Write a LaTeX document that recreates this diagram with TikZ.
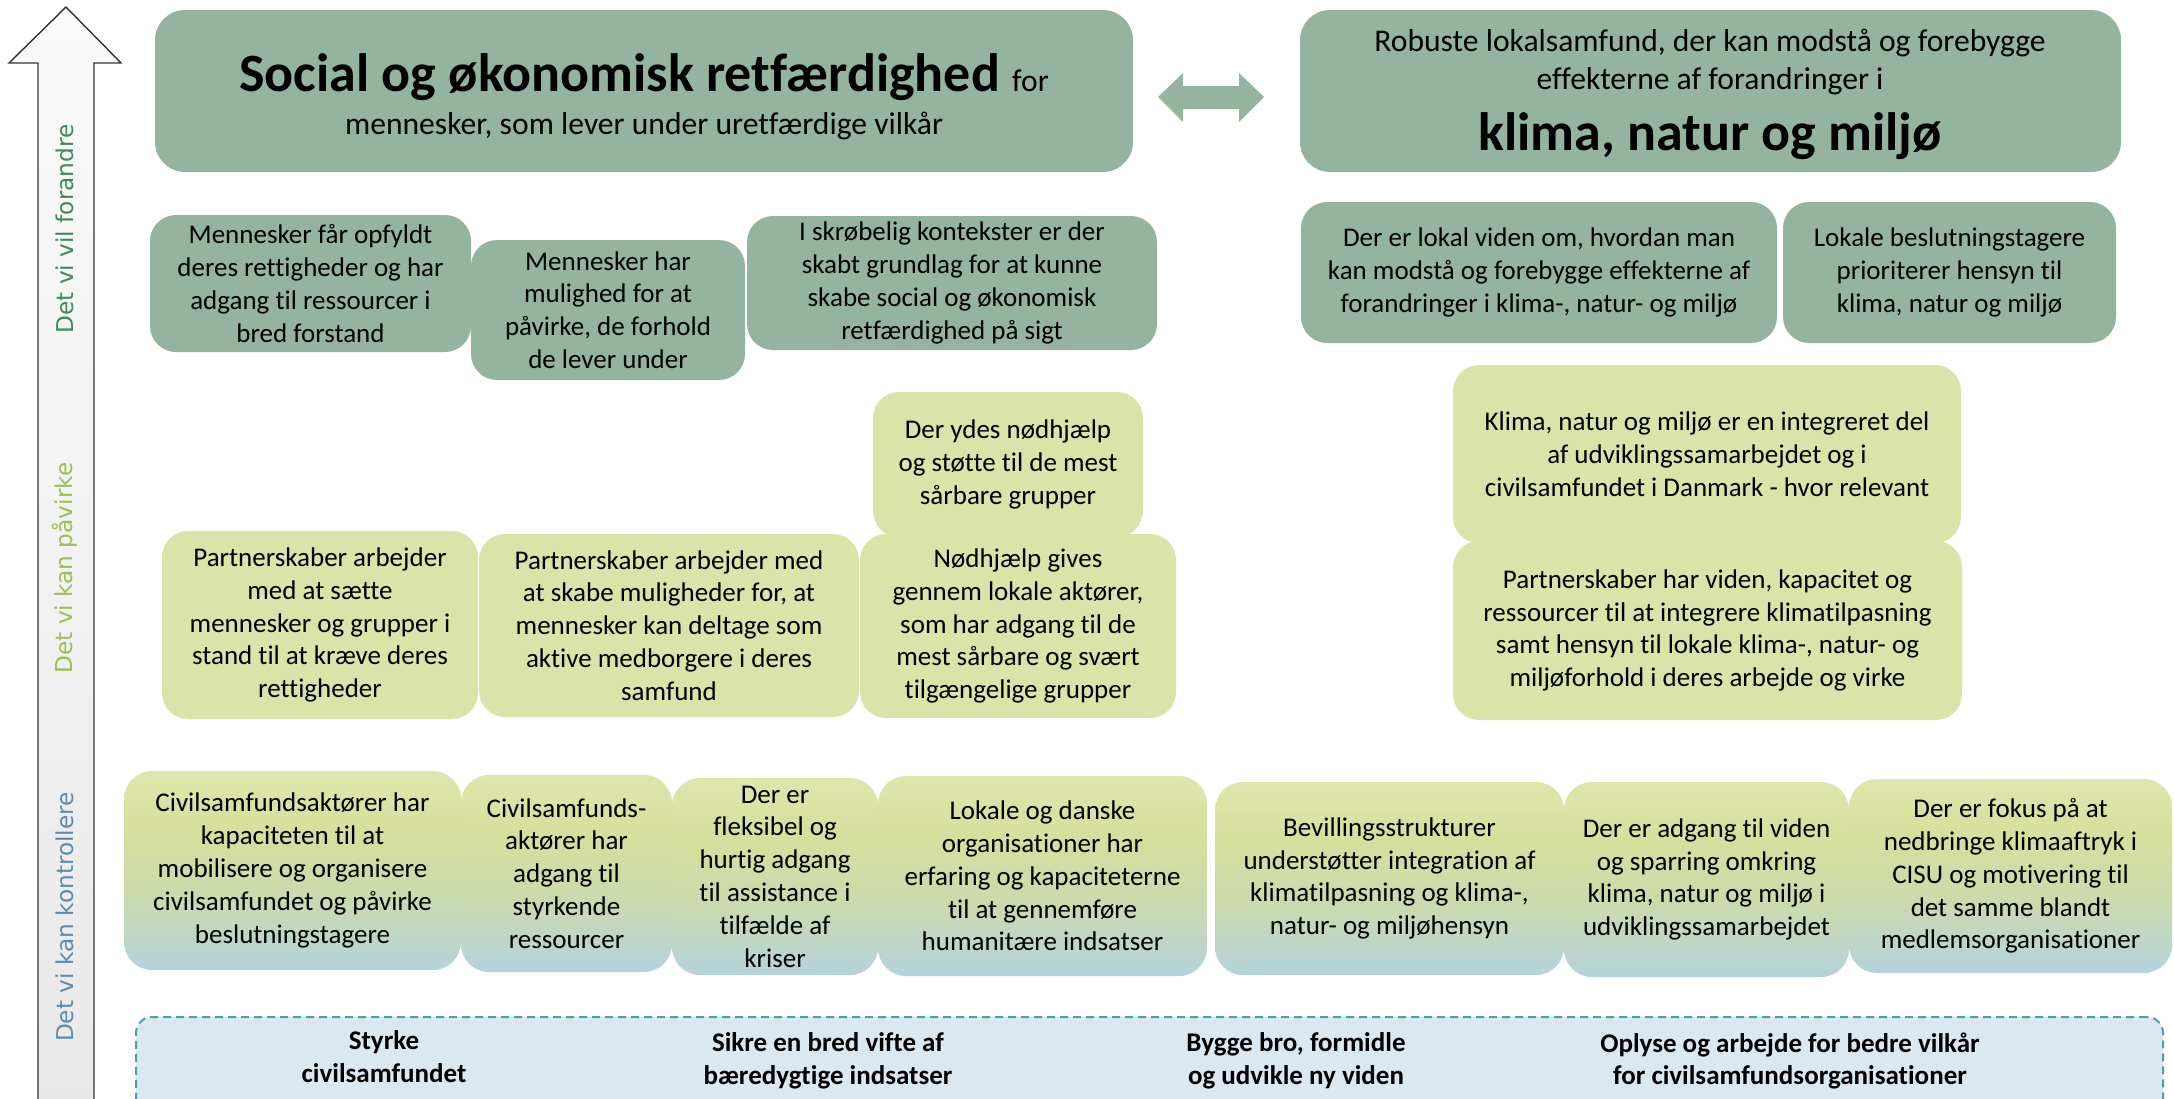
\documentclass[tikz,border=0pt]{standalone}
\usepackage{fontspec}
\setmainfont{Carlito}[Ligatures=NoCommon]
\newfontfamily\labelfont{DejaVu Sans}
\newcommand\bigtxtfont{\fontsize{27}{30}\selectfont\bfseries}
\definecolor{cDark}{HTML}{94B49F}
\definecolor{cLight}{HTML}{DAE4A8}
\definecolor{gTop}{HTML}{DFE6AC}
\definecolor{gYel}{HTML}{D6DF9C}
\definecolor{gMid}{HTML}{CBDAAE}
\definecolor{gBot}{HTML}{B4D3DD}
\definecolor{aBot}{HTML}{E9E9E9}
\definecolor{aTop}{HTML}{FAFAFA}
\definecolor{cBlueBox}{HTML}{DAE9EF}
\definecolor{cDash}{HTML}{4E9CB6}
\definecolor{cLabA}{HTML}{3D8B5C}
\definecolor{cLabB}{HTML}{9FBE55}
\definecolor{cLabC}{HTML}{5B8DAE}
\pgfdeclareverticalshading{cgrad}{100bp}{color(0bp)=(gBot); color(25bp)=(gBot); color(43bp)=(gMid); color(60bp)=(gYel); color(75bp)=(gTop); color(100bp)=(gTop)}
\pgfdeclareverticalshading{agrad}{100bp}{color(0bp)=(aBot); color(25bp)=(aBot); color(75bp)=(aTop); color(100bp)=(aTop)}
\newcommand\bx[7]{%
  \pgfmathsetmacro\bxw{(#4-#2)*0.5}%
  \pgfmathsetmacro\bxh{(#5-#3)*0.5}%
  \node[#6, minimum width=\bxw pt, minimum height=\bxh pt] (#1) at ({(#2+#4)/2},{(#3+#5)/2}) {#7};%
}
\begin{document}
\begin{tikzpicture}[x=0.5pt,y=-0.5pt,
  box/.style={rounded corners=13pt, inner sep=1pt, align=center, text=black,
    font=\fontsize{13.5}{16.4}\selectfont},
  bigbox/.style={box, rounded corners=15pt, fill=cDark},
  dg/.style={box, fill=cDark},
  lg/.style={box, fill=cLight},
  gr/.style={box, rounded corners=14pt, shade, shading=cgrad},
  basebox/.style={rounded corners=8pt, fill=cBlueBox, draw=cDash, line width=1pt, dash pattern=on 4pt off 2.5pt},
  bottomtxt/.style={align=center, font=\fontsize{13.5}{16.4}\selectfont\bfseries},
  toptxt/.style={anchor=base, font=\fontsize{15.8}{19}\selectfont},
  bigtxt/.style={font=\bigtxtfont},
  sidelab/.style={rotate=90, font=\labelfont\fontsize{11.6}{14}\selectfont}
]
\useasboundingbox (0,0) rectangle (2174,1098);

% left arrow
\shadedraw[shading=agrad, draw=black!80, line width=0.7pt]
  (38,1120) -- (38,63) -- (9,63) -- (66,7) -- (121,63) -- (94,63) -- (94,1120) -- cycle;
\node[sidelab, text=cLabA] (labA) at (65,229) {Det vi vil forandre};
\node[sidelab, text=cLabB] (labB) at (65,568) {Det vi kan påvirke};
\node[sidelab, text=cLabC] (labC) at (65,917) {Det vi kan kontrollere};

% top boxes
\bx{T1}{155}{10}{1133}{172}{bigbox}{}
\node[toptxt] (T1a) at (644,91) {{\bigtxtfont Social og økonomisk retfærdighed }for};
\node[toptxt] (T1b) at (644,134) {mennesker, som lever under uretfærdige vilkår};

\bx{T2}{1300}{10}{2121}{172}{bigbox}{}
\node[toptxt] (T2a) at (1710,51) {Robuste lokalsamfund, der kan modstå og forebygge};
\node[toptxt] (T2b) at (1710,89) {effekterne af forandringer i};
\node[toptxt, bigtxt] (T2c) at (1710,150) {klima, natur og miljø};

% double arrow
\fill[cDark] (1158,97) -- (1183,73) -- (1183,86) -- (1239,86) -- (1239,73) -- (1264,97)
  -- (1239,122) -- (1239,109) -- (1183,109) -- (1183,122) -- cycle;

% row A
\bx{A1}{150}{215}{471}{352}{dg}{Mennesker får opfyldt\\deres rettigheder og har\\adgang til ressourcer i\\bred forstand}
\bx{A2}{471}{240}{745}{380}{dg}{Mennesker har\\mulighed for at\\påvirke, de forhold\\de lever under}
\bx{A3}{747}{216}{1157}{350}{dg}{I skrøbelig kontekster er der\\skabt grundlag for at kunne\\skabe social og økonomisk\\retfærdighed på sigt}
\bx{A4}{1301}{202}{1777}{343}{dg}{Der er lokal viden om, hvordan man\\kan modstå og forebygge effekterne af\\forandringer i klima-, natur- og miljø}
\bx{A5}{1783}{202}{2116}{343}{dg}{Lokale beslutningstagere\\prioriterer hensyn til\\klima, natur og miljø}

% row B
\bx{B1}{873}{392}{1143}{537}{lg}{Der ydes nødhjælp\\og støtte til de mest\\sårbare grupper}
\bx{B2}{162}{531}{478}{719}{lg}{Partnerskaber arbejder\\med at sætte\\mennesker og grupper i\\stand til at kræve deres\\rettigheder}
\bx{B3}{479}{534}{859}{717}{lg}{Partnerskaber arbejder med\\at skabe muligheder for, at\\mennesker kan deltage som\\aktive medborgere i deres\\samfund}
\bx{B4}{860}{534}{1176}{718}{lg}{Nødhjælp gives\\gennem lokale aktører,\\som har adgang til de\\mest sårbare og svært\\tilgængelige grupper}
\bx{B5}{1453}{365}{1961}{543}{lg}{Klima, natur og miljø er en integreret del\\af udviklingssamarbejdet og i\\civilsamfundet i Danmark - hvor relevant}
\bx{B6}{1453}{541}{1962}{720}{lg}{Partnerskaber har viden, kapacitet og\\ressourcer til at integrere klimatilpasning\\samt hensyn til lokale klima-, natur- og\\miljøforhold i deres arbejde og virke}

% row C
\bx{C1}{124}{771}{461}{970}{gr}{Civilsamfundsaktører har\\kapaciteten til at\\mobilisere og organisere\\civilsamfundet og påvirke\\beslutningstagere}
\bx{C2}{461}{775}{672}{972}{gr}{Civilsamfunds-\\aktører har\\adgang til\\styrkende\\ressourcer}
\bx{C3}{672}{778}{878}{975}{gr}{Der er\\fleksibel og\\hurtig adgang\\til assistance i\\tilfælde af\\kriser}
\bx{C4}{878}{776}{1207}{976}{gr}{Lokale og danske\\organisationer har\\erfaring og kapaciteterne\\til at gennemføre\\humanitære indsatser}
\bx{C5}{1215}{782}{1564}{975}{gr}{Bevillingsstrukturer\\understøtter integration af\\klimatilpasning og klima-,\\natur- og miljøhensyn}
\bx{C6}{1564}{782}{1849}{977}{gr}{Der er adgang til viden\\og sparring omkring\\klima, natur og miljø i\\udviklingssamarbejdet}
\bx{C7}{1849}{779}{2172}{973}{gr}{Der er fokus på at\\nedbringe klimaaftryk i\\CISU og motivering til\\det samme blandt\\medlemsorganisationer}

% bottom base
\bx{D}{136}{1017}{2163}{1130}{basebox}{}
\node[bottomtxt] (D1) at (384,1057) {Styrke\\civilsamfundet};
\node[bottomtxt] (D2) at (828,1061) {Sikre en bred vifte af\\bæredygtige indsatser};
\node[bottomtxt] (D3) at (1296,1061) {Bygge bro, formidle\\og udvikle ny viden};
\node[bottomtxt] (D4) at (1790,1061) {Oplyse og arbejde for bedre vilkår\\for civilsamfundsorganisationer};
\end{tikzpicture}
\end{document}
